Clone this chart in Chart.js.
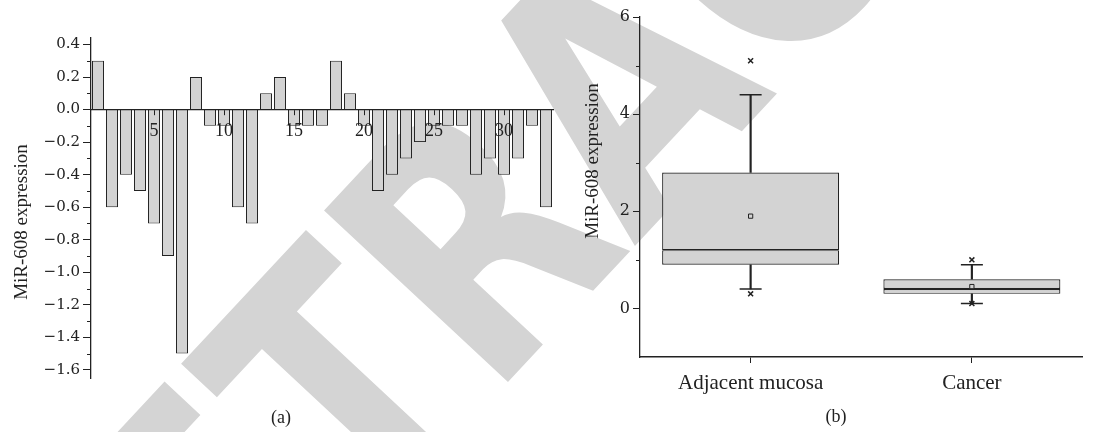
<!DOCTYPE html>
<html>
<head>
<meta charset="utf-8">
<title>MiR-608 expression</title>
<script src="https://cdn.jsdelivr.net/npm/chart.js@4.4.1/dist/chart.umd.min.js"></script>
<style>
  html, body { margin: 0; padding: 0; background: #ffffff; }
  #wrap { position: relative; width: 1095px; height: 432px; overflow: hidden; background: #ffffff; }
  #stamp { position: absolute; left: 0; top: 0; }
  #panelA { position: absolute; left: 0; top: 0; }
  #panelB { position: absolute; left: 577px; top: 0; }
</style>
</head>
<body>
<div id="wrap">
  <canvas id="stamp" width="1095" height="432"></canvas>
  <canvas id="panelA" width="565" height="432"></canvas>
  <canvas id="panelB" width="518" height="432"></canvas>
</div>
<script>
// ---- Panel (a): MiR-608 expression per patient ----
const sampleLabels = ['1','2','3','4','5','6','7','8','9','10','11','12','13','14','15','16','17',
                      '18','19','20','21','22','23','24','25','26','27','28','29','30','31','32','33'];
const expressionChange = [0.3, -0.6, -0.4, -0.5, -0.7, -0.9, -1.5, 0.2, -0.1, -0.1, -0.6, -0.7, 0.1,
                          0.2, -0.1, -0.1, -0.1, 0.3, 0.1, -0.1, -0.5, -0.4, -0.3, -0.2, -0.1, -0.1,
                          -0.1, -0.4, -0.3, -0.4, -0.3, -0.1, -0.6];
const labelledSamples = ['5', '10', '15', '20', '25', '30'];
const panelATicks = [0.4, 0.2, 0, -0.2, -0.4, -0.6, -0.8, -1.0, -1.2, -1.4, -1.6];
const panelAMinorTicks = [0.3, 0.1, -0.1, -0.3, -0.5, -0.7, -0.9, -1.1, -1.3, -1.5];

// ---- Panel (b): distribution by tissue type ----
const groups = ['Adjacent mucosa', 'Cancer'];
const whiskerLow = [0.4, 0.1];
const quartile1 = [0.9, 0.3];
const median = [1.2, 0.4];
const quartile3 = [2.8, 0.6];
const whiskerHigh = [4.4, 0.9];
const mean = [1.9, 0.45];
const outlierHigh = [5.1, 1.0];
const outlierLow = [0.3, 0.1];
const panelBTicks = [0, 2, 4, 6];
const panelBMinorTicks = [1, 3, 5];

const stampText = 'RETRACTED';

const INK = '#222222';
const FILL = '#d3d3d3';
const SERIF = "'Liberation Serif', 'Times New Roman', serif";
const WIDE_SERIF = "'DejaVu Serif', serif";

Chart.defaults.font.family = SERIF;
Chart.defaults.color = INK;

// diagonal stamp behind both panels (condensed heavy sans)
(function drawStamp() {
  const ctx = document.getElementById('stamp').getContext('2d');
  ctx.save();
  ctx.translate(94, 826);
  ctx.rotate(-47 * Math.PI / 180);
  ctx.scale(0.79, 1);
  ctx.font = "bold 345px 'DejaVu Sans', sans-serif";
  ctx.fillStyle = '#d4d4d4';
  ctx.textAlign = 'left';
  ctx.textBaseline = 'alphabetic';
  ctx.fillText(stampText, 0, 0);
  ctx.restore();
})();

// short ticks between the labelled ones on the value axis
const minorTicks = {
  id: 'minorTicks',
  afterDraw(chart, args, opts) {
    const scale = chart.scales.y;
    const ctx = chart.ctx;
    ctx.save();
    ctx.strokeStyle = INK;
    ctx.lineWidth = 1;
    ctx.beginPath();
    for (const v of opts.values) {
      const y = Math.round(scale.getPixelForValue(v)) + 0.5;
      ctx.moveTo(scale.right - opts.length, y);
      ctx.lineTo(scale.right, y);
    }
    ctx.stroke();
    ctx.restore();
  }
};

// free-standing captions (rotated axis title, panel letter)
const captions = {
  id: 'captions',
  afterDraw(chart, args, opts) {
    const ctx = chart.ctx;
    for (const item of opts.items) {
      ctx.save();
      ctx.translate(item.x, item.y);
      if (item.rotate) ctx.rotate(item.rotate);
      ctx.font = item.font;
      ctx.fillStyle = INK;
      ctx.textAlign = 'center';
      ctx.textBaseline = 'middle';
      ctx.fillText(item.text, 0, 0);
      ctx.restore();
    }
  }
};

const fmtA = v => (Math.abs(v) < 1e-9 ? '0.0' : v.toFixed(1).replace('-', '\u2212'));

new Chart(document.getElementById('panelA'), {
  type: 'bar',
  data: {
    labels: sampleLabels,
    datasets: [{
      data: expressionChange,
      backgroundColor: FILL,
      borderColor: INK,
      borderWidth: 1,
      barPercentage: 0.86,
      categoryPercentage: 1
    }]
  },
  options: {
    responsive: false,
    animation: false,
    devicePixelRatio: 1,
    layout: { padding: { left: 0, right: 12, top: 38, bottom: 54 } },
    plugins: {
      legend: { display: false },
      tooltip: { enabled: false },
      minorTicks: { values: panelAMinorTicks, length: 4 },
      captions: {
        items: [
          { text: 'MiR-608 expression', x: 22, y: 222, rotate: -Math.PI / 2, font: '19px ' + SERIF },
          { text: '(a)', x: 281, y: 418, font: '18px ' + SERIF }
        ]
      }
    },
    scales: {
      x: {
        position: { y: 0 },
        offset: true,
        grid: {
          z: 1,
          drawOnChartArea: false,
          drawTicks: true,
          tickLength: 5,
          offset: false,
          tickColor: ctx => (labelledSamples.includes(sampleLabels[ctx.index]) ? INK : 'rgba(0,0,0,0)')
        },
        border: { display: true, color: INK, width: 1.2, z: 1 },
        ticks: {
          z: 1,
          autoSkip: false,
          maxRotation: 0,
          padding: 6,
          font: { size: 18 },
          callback: (v, i) => (labelledSamples.includes(sampleLabels[i]) ? sampleLabels[i] : '')
        }
      },
      y: {
        min: -1.65,
        max: 0.44,
        afterBuildTicks: s => { s.ticks = panelATicks.map(v => ({ value: v })); },
        afterFit: s => { s.width = 91; },
        grid: { drawOnChartArea: false, tickLength: 8, tickColor: INK },
        border: { color: INK, width: 1.3 },
        ticks: { padding: 3, font: { family: WIDE_SERIF, size: 15 }, callback: v => fmtA(v) }
      }
    }
  },
  plugins: [minorTicks, captions]
});

const pointSet = (values, style, radius, width, fill) => ({
  type: 'line',
  data: values,
  showLine: false,
  pointStyle: style,
  pointRadius: radius,
  pointHoverRadius: radius,
  pointBorderColor: INK,
  pointBorderWidth: width,
  pointBackgroundColor: fill,
  borderColor: INK
});

const rangeSet = (from, to, extra) => Object.assign({
  data: groups.map((g, i) => [from[i], to[i]]),
  grouped: false,
  borderSkipped: false
}, extra);

const boxStyle = { backgroundColor: FILL, borderColor: INK, borderWidth: 1.2, barPercentage: 0.8, categoryPercentage: 1 };
const whiskerStyle = { backgroundColor: INK, borderWidth: 0, barThickness: 1.5 };

new Chart(document.getElementById('panelB'), {
  type: 'bar',
  data: {
    labels: groups,
    datasets: [
      pointSet(outlierHigh, 'crossRot', 3.5, 1.5, INK),
      pointSet(outlierLow, 'crossRot', 3.5, 1.5, INK),
      pointSet(mean, 'rect', 3, 1, FILL),
      pointSet(whiskerHigh, 'line', 11, 1.5, INK),
      pointSet(whiskerLow, 'line', 11, 1.5, INK),
      rangeSet(quartile1, median, boxStyle),
      rangeSet(median, quartile3, boxStyle),
      rangeSet(quartile3, whiskerHigh, whiskerStyle),
      rangeSet(whiskerLow, quartile1, whiskerStyle)
    ]
  },
  options: {
    responsive: false,
    animation: false,
    devicePixelRatio: 1,
    layout: { padding: { left: 0, right: 3, top: 17, bottom: 33 } },
    plugins: {
      legend: { display: false },
      tooltip: { enabled: false },
      minorTicks: { values: panelBMinorTicks, length: 4 },
      captions: {
        items: [
          { text: 'MiR-608 expression', x: 16, y: 161, rotate: -Math.PI / 2, font: '19px ' + SERIF },
          { text: '(b)', x: 259, y: 417, font: '18px ' + SERIF }
        ]
      }
    },
    scales: {
      x: {
        offset: true,
        afterFit: s => { s.height = 42; },
        grid: { drawOnChartArea: false, tickLength: 6, offset: false, tickColor: INK },
        border: { color: INK, width: 1.5 },
        ticks: { padding: 8, font: { size: 21 }, maxRotation: 0 }
      },
      y: {
        min: -1,
        max: 6,
        afterBuildTicks: s => { s.ticks = panelBTicks.map(v => ({ value: v })); },
        afterFit: s => { s.width = 63; },
        grid: { drawOnChartArea: false, tickLength: 7, tickColor: INK },
        border: { color: INK, width: 1.3 },
        ticks: { padding: 3, font: { family: WIDE_SERIF, size: 16 } }
      }
    }
  },
  plugins: [minorTicks, captions]
});
</script>
</body>
</html>
